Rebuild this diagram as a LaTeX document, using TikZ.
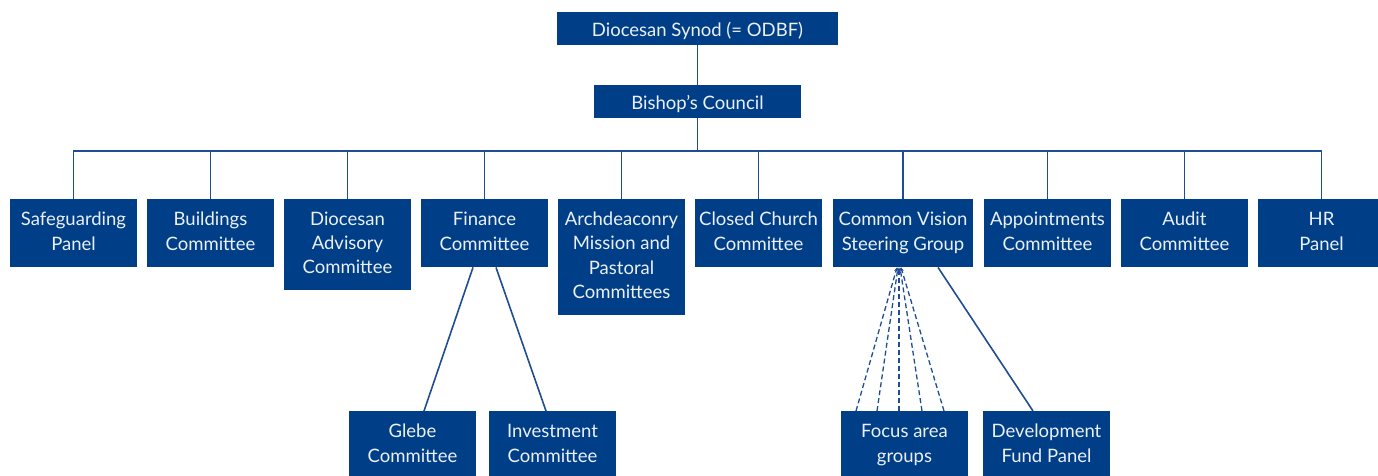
\documentclass[tikz,border=0pt]{standalone}
\usepackage{fontspec}
\setmainfont{Lato}
\usetikzlibrary{calc,arrows.meta}
\definecolor{boxblue}{RGB}{0,63,135}
\definecolor{lineblue}{RGB}{30,78,145}
\definecolor{boxtext}{RGB}{236,240,246}
\newcommand{\topstrut}{\rule{0pt}{20.5pt}}
\newcommand{\botstrut}{\rule[-3.8pt]{0pt}{3.8pt}}
\begin{document}
\begin{tikzpicture}[x=1pt,y=-1pt,
  orgbox/.style={rectangle,fill=boxblue,text=boxtext,align=center,inner sep=0pt,
    font=\fontsize{18.5}{24.3}\selectfont,minimum width=127pt,minimum height=68pt,anchor=north,
    execute at begin node=\topstrut,execute at end node=\botstrut},
  topbox/.style={orgbox,minimum height=33pt,anchor=center},
  conn/.style={draw=lineblue,line width=1.6pt},
  dconn/.style={draw=lineblue,line width=1.3pt,dash pattern=on 5pt off 3pt,-{Stealth[length=4pt,width=3.5pt]}}]
\useasboundingbox (0,0) rectangle (1378,475);
\node[topbox,minimum width=281pt] (syn) at (697.5,28.5) {Diocesan Synod (= ODBF)};
\node[topbox,minimum width=207pt] (bc) at (697.5,101.5) {Bishop’s Council};
\coordinate (bar) at (0,151);
% first row
\node[orgbox] (sg) at (73.5,199) {Safeguarding\\Panel};
\node[orgbox] (bu) at (210.5,199) {Buildings\\Committee};
\node[orgbox,minimum height=91pt] (da) at (347.5,199) {Diocesan\\Advisory\\Committee};
\node[orgbox] (fc) at (484.5,199) {Finance\\Committee};
\node[orgbox,minimum height=116pt] (ar) at (621.5,199) {Archdeaconry\\Mission and\\Pastoral\\Committees};
\node[orgbox] (cc) at (758.5,199) {Closed Church\\Committee};
\node[orgbox,minimum width=140pt] (cv) at (903,199) {Common Vision\\Steering Group};
\node[orgbox] (ap) at (1047.5,199) {Appointments\\Committee};
\node[orgbox] (au) at (1184.5,199) {Audit\\Committee};
\node[orgbox] (hr) at (1321.5,199) {HR\\Panel};
% second row
\node[orgbox] (gl) at (412.5,411) {Glebe\\Committee};
\node[orgbox] (iv) at (552.5,411) {Investment\\Committee};
\node[orgbox] (fa) at (904.5,411) {Focus area\\groups};
\node[orgbox] (df) at (1046.5,411) {Development\\Fund Panel};
% connectors
\draw[conn] (syn.south) -- (bc.north);
\draw[conn] (bc.south) -- (bc.south |- bar);
\draw[conn] (sg.north) |- (hr.north |- bar) -- (hr.north);
\foreach \n in {bu,da,fc,ar,cc,cv,ap,au}
  \draw[conn] (\n.north) -- (\n.north |- bar);
\draw[conn] ($(fc.south)+(-11.5,0)$) -- ($(gl.north)+(11.5,0)$);
\draw[conn] ($(fc.south)+(11.5,0)$) -- ($(iv.north)+(-6.5,0)$);
\draw[conn] ($(cv.south)+(35,0)$) -- ($(df.north)+(-13.5,0)$);
\draw[dconn] ($(fa.north)+(-48.5,0)$) -- ($(cv.south)+(-6,0)$);
\draw[dconn] ($(fa.north)+(-27.5,0)$) -- ($(cv.south)+(-5,0)$);
\draw[dconn] ($(fa.north)+(-5.5,0)$) -- ($(cv.south)+(-4,0)$);
\draw[dconn] ($(fa.north)+(17.5,0)$) -- ($(cv.south)+(-3,0)$);
\draw[dconn] ($(fa.north)+(39.5,0)$) -- ($(cv.south)+(-2,0)$);
\end{tikzpicture}
\end{document}
